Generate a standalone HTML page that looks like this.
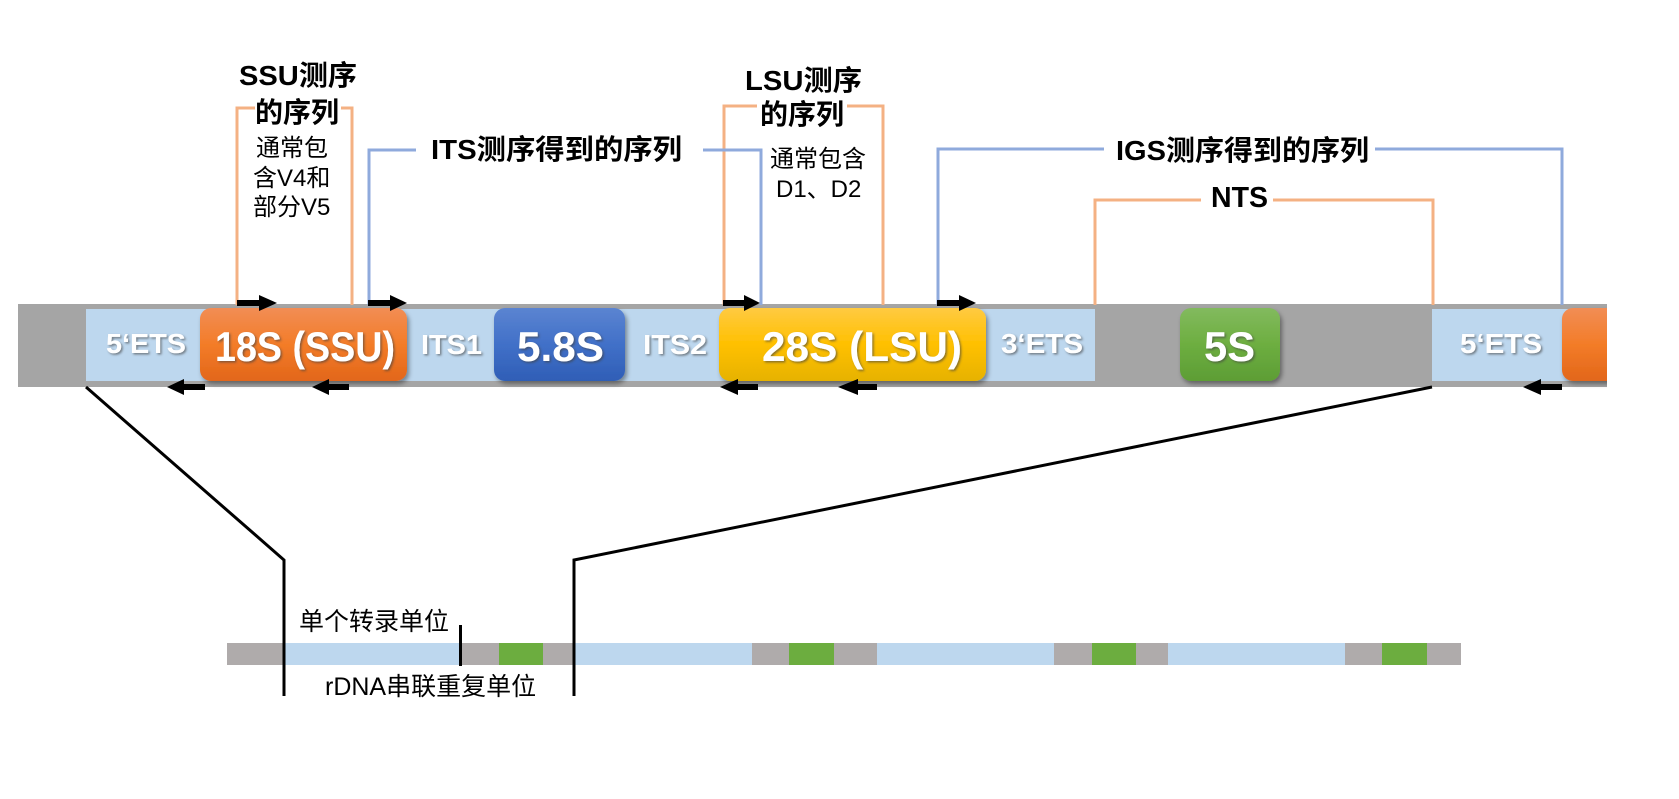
<!DOCTYPE html>
<html>
<head>
<meta charset="utf-8">
<style>
html,body{margin:0;padding:0;background:#fff;}
svg{display:block;}
.t{font-family:"Liberation Sans","Noto Sans CJK SC",sans-serif;}
.b{font-weight:bold;}
.w{fill:#fff;font-family:"Liberation Sans",sans-serif;font-weight:bold;}
</style>
</head>
<body>
<svg width="1679" height="799" viewBox="0 0 1679 799" xmlns="http://www.w3.org/2000/svg">
<defs>
  <linearGradient id="gO" x1="0" y1="0" x2="0" y2="1">
    <stop offset="0" stop-color="#F28D55"/>
    <stop offset="0.5" stop-color="#F37C28"/>
    <stop offset="1" stop-color="#E2661A"/>
  </linearGradient>
  <linearGradient id="gB" x1="0" y1="0" x2="0" y2="1">
    <stop offset="0" stop-color="#5B84D1"/>
    <stop offset="0.5" stop-color="#4170C8"/>
    <stop offset="1" stop-color="#2F5EB6"/>
  </linearGradient>
  <linearGradient id="gY" x1="0" y1="0" x2="0" y2="1">
    <stop offset="0" stop-color="#FFCA42"/>
    <stop offset="0.5" stop-color="#FFC000"/>
    <stop offset="1" stop-color="#E6B200"/>
  </linearGradient>
  <linearGradient id="gG" x1="0" y1="0" x2="0" y2="1">
    <stop offset="0" stop-color="#82BA5E"/>
    <stop offset="0.5" stop-color="#6DAE40"/>
    <stop offset="1" stop-color="#5D9D35"/>
  </linearGradient>
  <filter id="sh" x="-10%" y="-20%" width="130%" height="150%">
    <feDropShadow dx="2" dy="3" stdDeviation="2.5" flood-color="#000" flood-opacity="0.4"/>
  </filter>
  <filter id="ts" x="-10%" y="-20%" width="130%" height="150%">
    <feDropShadow dx="1.5" dy="1.5" stdDeviation="1" flood-color="#404040" flood-opacity="0.6"/>
  </filter>
  <clipPath id="cp"><rect x="0" y="0" width="1607" height="799"/></clipPath>
</defs>

<!-- main bar -->
<rect x="18" y="304" width="1589" height="83" fill="#A5A5A5"/>
<rect x="86" y="309" width="1009" height="72" fill="#BDD7EE"/>
<rect x="1432" y="309" width="175" height="72" fill="#BDD7EE"/>

<!-- boxes -->
<g filter="url(#sh)">
  <rect x="200" y="308" width="207" height="73" rx="11" fill="url(#gO)"/>
  <rect x="494" y="308" width="131" height="73" rx="11" fill="url(#gB)"/>
  <rect x="719" y="308" width="267" height="73" rx="11" fill="url(#gY)"/>
  <rect x="1180" y="308" width="100" height="73" rx="11" fill="url(#gG)"/>
</g>
<g clip-path="url(#cp)">
  <rect x="1562" y="308" width="70" height="73" rx="11" fill="url(#gO)" filter="url(#sh)"/>
</g>

<!-- white labels -->
<g filter="url(#ts)">
  <text class="w" x="106" y="353" font-size="28" textLength="80" lengthAdjust="spacingAndGlyphs">5‘ETS</text>
  <text class="w" x="215" y="361" font-size="42" textLength="180" lengthAdjust="spacingAndGlyphs">18S (SSU)</text>
  <text class="w" x="421" y="354" font-size="28" textLength="61" lengthAdjust="spacingAndGlyphs">ITS1</text>
  <text class="w" x="517" y="361" font-size="42" textLength="87" lengthAdjust="spacingAndGlyphs">5.8S</text>
  <text class="w" x="643" y="354" font-size="28" textLength="64" lengthAdjust="spacingAndGlyphs">ITS2</text>
  <text class="w" x="762" y="361" font-size="42" textLength="200" lengthAdjust="spacingAndGlyphs">28S (LSU)</text>
  <text class="w" x="1001" y="353" font-size="28" textLength="82" lengthAdjust="spacingAndGlyphs">3‘ETS</text>
  <text class="w" x="1204" y="361" font-size="42" textLength="51" lengthAdjust="spacingAndGlyphs">5S</text>
  <text class="w" x="1460" y="353" font-size="28" textLength="82" lengthAdjust="spacingAndGlyphs">5‘ETS</text>
</g>

<!-- bracket lines -->
<g fill="none" stroke-width="3" stroke-linejoin="miter">
  <path d="M237,305 V108 H255 M341,108 H352 V305" stroke="#F4B183"/>
  <path d="M724,305 V106 H757 M847,106 H883 V305" stroke="#F4B183"/>
  <path d="M1095,305 V200 H1201 M1273,200 H1433 V305" stroke="#F4B183"/>
  <path d="M369,305 V150 H416 M703,150 H761 V305" stroke="#8FAADC"/>
  <path d="M938,305 V149 H1104 M1375,149 H1562 V305" stroke="#8FAADC"/>
</g>

<!-- arrows top (right) -->
<g fill="#000">
  <rect x="237" y="300" width="24" height="6"/><polygon points="259,295 277,303 259,311"/>
  <rect x="368" y="300" width="24" height="6"/><polygon points="390,295 407,303 390,311"/>
  <rect x="723" y="300" width="23" height="6"/><polygon points="744,295 760,303 744,311"/>
  <rect x="937" y="300" width="24" height="6"/><polygon points="959,295 976,303 959,311"/>
  <!-- bottom (left) -->
  <rect x="182" y="384" width="23" height="6"/><polygon points="184,379 167,387 184,395"/>
  <rect x="327" y="384" width="22" height="6"/><polygon points="329,379 312,387 329,395"/>
  <rect x="736" y="384" width="22" height="6"/><polygon points="738,379 720,387 738,395"/>
  <rect x="856" y="384" width="21" height="6"/><polygon points="858,379 838,387 858,395"/>
  <rect x="1539" y="384" width="23" height="6"/><polygon points="1541,379 1523,387 1541,395"/>
</g>

<!-- top texts -->
<g class="t" fill="#000">
  <text x="239" y="85" font-size="28" class="b" textLength="118" lengthAdjust="spacingAndGlyphs">SSU测序</text>
  <text x="255" y="122" font-size="28" class="b">的序列</text>
  <text x="256" y="156" font-size="24">通常包</text>
  <text x="253" y="186" font-size="24">含V4和</text>
  <text x="253" y="215" font-size="24">部分V5</text>

  <text x="431" y="159" font-size="28" class="b" textLength="251" lengthAdjust="spacingAndGlyphs">ITS测序得到的序列</text>

  <text x="745" y="90" font-size="28" class="b" textLength="117" lengthAdjust="spacingAndGlyphs">LSU测序</text>
  <text x="760" y="124" font-size="28" class="b">的序列</text>
  <text x="770" y="167" font-size="24">通常包含</text>
  <text x="776" y="197" font-size="24">D1、D2</text>

  <text x="1116" y="160" font-size="28" class="b" textLength="253" lengthAdjust="spacingAndGlyphs">IGS测序得到的序列</text>
  <text x="1211" y="207" font-size="28.5" class="b">NTS</text>
</g>

<!-- zoom lines -->
<g fill="none" stroke="#000" stroke-width="3">
  <path d="M86,387 L284,560 V696"/>
  <path d="M1432,387 L574,560 V696"/>
</g>

<!-- bottom bar -->
<g>
  <rect x="227" y="643" width="1234" height="22" fill="#AFABAB"/>
  <rect x="283" y="643" width="177" height="22" fill="#BDD7EE"/>
  <rect x="499" y="643" width="44" height="22" fill="#6CAD3F"/>
  <rect x="573" y="643" width="179" height="22" fill="#BDD7EE"/>
  <rect x="789" y="643" width="45" height="22" fill="#6CAD3F"/>
  <rect x="877" y="643" width="177" height="22" fill="#BDD7EE"/>
  <rect x="1092" y="643" width="44" height="22" fill="#6CAD3F"/>
  <rect x="1168" y="643" width="177" height="22" fill="#BDD7EE"/>
  <rect x="1382" y="643" width="45" height="22" fill="#6CAD3F"/>
</g>
<rect x="459" y="625" width="3" height="41" fill="#000"/>
<rect x="282.5" y="640" width="3" height="56" fill="#000"/>
<rect x="572.5" y="640" width="3" height="56" fill="#000"/>

<g class="t" fill="#000">
  <text x="299" y="630" font-size="25">单个转录单位</text>
  <text x="325" y="695" font-size="25">rDNA串联重复单位</text>
</g>
</svg>
</body>
</html>
